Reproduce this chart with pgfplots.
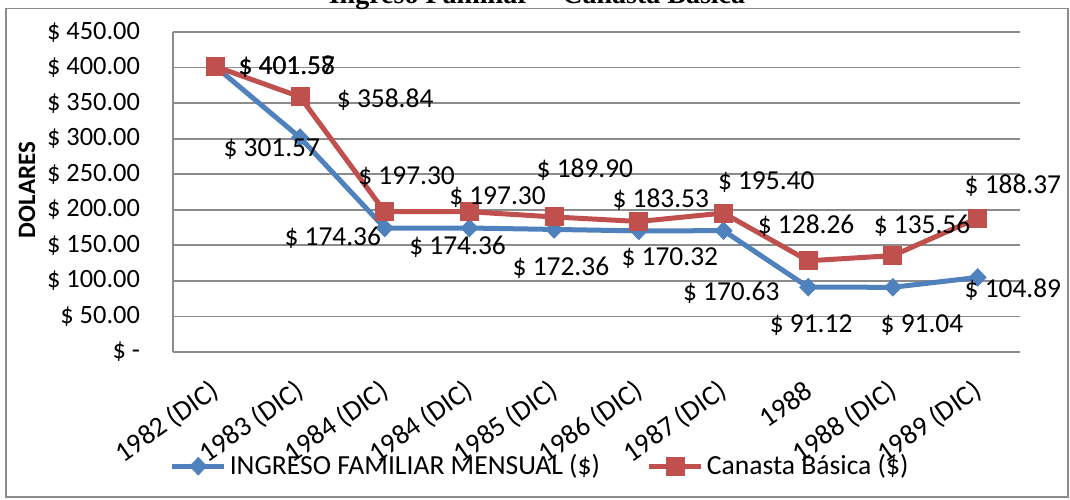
\documentclass[border=0pt]{standalone}
\usepackage{pgfplots}
\pgfplotsset{compat=1.18}
\usepackage{fontspec}
\setmainfont{Carlito}
\newfontfamily\titlefont{Liberation Serif}
\definecolor{cblue}{HTML}{4F81BD}
\definecolor{cred}{HTML}{C0504D}
\definecolor{cgrid}{HTML}{8C8C8C}
\begin{document}
\begin{tikzpicture}
\useasboundingbox (0,0) rectangle (535pt,249.5pt);
\clip (0,0) rectangle (535pt,249.5pt);
\draw[cgrid, line width=0.9pt] (3pt,1pt) rectangle (534pt,245.25pt);
\node[font=\titlefont\bfseries\fontsize{14}{16}\selectfont, anchor=base] at (268.5pt,247.5pt) {Ingreso Familiar -- Canasta Básica};
\begin{axis}[
  at={(86.5pt,73.5pt)}, anchor=south west,
  scale only axis, width=423.5pt, height=160pt,
  xmin=-0.5, xmax=9.5, ymin=0, ymax=450,
  clip=false,
  axis x line*=bottom, axis y line*=left,
  axis line style={cgrid, line width=0.9pt},
  major tick length=0pt,
  ymajorgrids, grid style={cgrid, line width=0.9pt},
  ytick={0,50,...,450},
  yticklabels={{\$ -\hspace{6pt}},{\$ 50.00},{\$ 100.00},{\$ 150.00},{\$ 200.00},{\$ 250.00},{\$ 300.00},{\$ 350.00},{\$ 400.00},{\$ 450.00}},
  yticklabel style={font=\fontsize{13.2}{15}\selectfont, anchor=east, xshift=-13pt},
  xtick={0,...,9},
  xticklabels={1982 (DIC),1983 (DIC),1984 (DIC),1984 (DIC),1985 (DIC),1986 (DIC),1987 (DIC),1988,1988 (DIC),1989 (DIC)},
  xticklabel style={font=\fontsize{14}{16}\selectfont, xshift=3.2pt, yshift=-16pt, rotate=35, anchor=east},
  ylabel={\textbf{DOLARES}},
  ylabel style={at={(axis description cs:-0.1724,0.506)}, anchor=center, font=\fontsize{12.5}{15}\selectfont},
  legend style={draw=none, fill=none, at={(axis description cs:0.434,-0.357)}, anchor=center,
    font=\fontsize{13.8}{16}\selectfont, /tikz/every even column/.append style={column sep=22pt},
    nodes={inner sep=1.5pt}},
  legend columns=2,
  legend image code/.code={\draw[mark repeat=2,mark phase=2,#1] plot coordinates {(0pt,0pt) (13pt,0pt) (26pt,0pt)};},
  every node near coord/.append style={anchor=center, font=\fontsize{13.7}{16}\selectfont, text=black, inner sep=0pt},
]
\addplot[cblue, line width=2.5pt, mark=diamond*, mark size=4.3pt, mark options={xscale=1.3, line width=0.5pt}]
  coordinates {(0,401.57) (1,301.57) (2,174.36) (3,174.36) (4,172.36) (5,170.32) (6,170.63) (7,91.12) (8,91.04) (9,104.89)};
\addlegendentry{INGRESO FAMILIAR MENSUAL (\$)}
\addplot[cred, line width=2.5pt, mark=square*, mark size=4.5pt, mark options={line width=0.5pt}]
  coordinates {(0,401.58) (1,358.84) (2,197.30) (3,197.30) (4,189.90) (5,183.53) (6,195.40) (7,128.26) (8,135.56) (9,188.37)};
\addlegendentry{Canasta Básica (\$)}
% data labels, blue series
\addplot[draw=none, mark=none, forget plot, nodes near coords, point meta=explicit symbolic]
  coordinates {(0.843,400.8) [\$ 401.57] (0.666,285.5) [\$ 301.57] (1.386,160.3) [\$ 174.36] (2.860,147.7) [\$ 174.36]
   (4.080,118.1) [\$ 172.36] (5.366,132.2) [\$ 170.32] (6.091,83.0) [\$ 170.63] (7.034,38.0) [\$ 91.12]
   (8.343,38.0) [\$ 91.04] (9.416,87.2) [\$ 104.89]};
% data labels, red series
\addplot[draw=none, mark=none, forget plot, nodes near coords, point meta=explicit symbolic]
  coordinates {(0.843,400.8) [\$ 401.58] (2.005,354.4) [\$ 358.84] (2.258,246.1) [\$ 197.30] (3.331,218.0) [\$ 197.30]
   (4.363,255.9) [\$ 189.90] (5.259,213.8) [\$ 183.53] (6.504,239.1) [\$ 195.40] (6.975,177.2) [\$ 128.26]
   (8.343,177.2) [\$ 135.56] (9.416,233.4) [\$ 188.37]};
\end{axis}
\end{tikzpicture}
\end{document}
